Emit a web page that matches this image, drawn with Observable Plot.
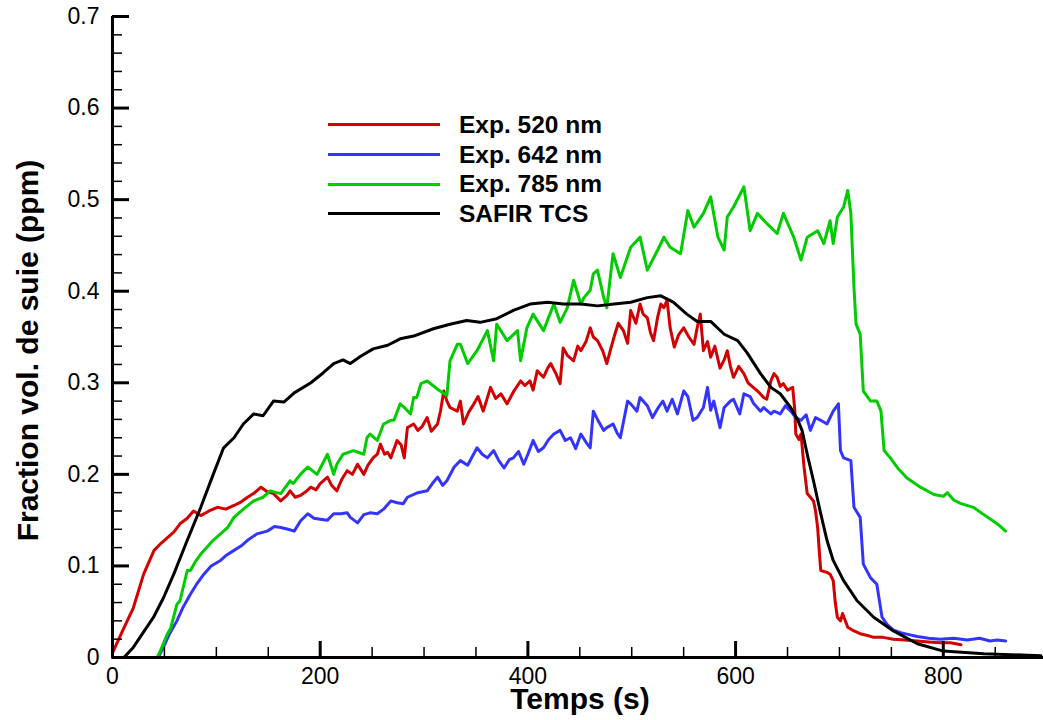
<!DOCTYPE html>
<html>
<head>
<meta charset="utf-8">
<script src="https://cdn.jsdelivr.net/npm/d3@7"></script>
<script src="https://cdn.jsdelivr.net/npm/@observablehq/plot@0.6"></script>
<style>
  body { margin: 0; background: #fff; }
  #wrap { position: relative; width: 1043px; height: 720px; font-family: "Liberation Sans", Arial, Helvetica, sans-serif; }
  #legend { position: absolute; left: 328px; top: 110px; }
  .item { display: flex; align-items: center; height: 29.7px; }
  .swatch { width: 112px; height: 3px; margin-right: 19px; }
  .lab { font-weight: bold; font-size: 24.5px; color: #000; white-space: nowrap; }
</style>
</head>
<body>
<div id="wrap"><div id="legend"></div></div>
<script>
// ---- Data (time in s, soot volume fraction in ppm) ----
const seriesNames = ["Exp. 520 nm", "Exp. 642 nm", "Exp. 785 nm", "SAFIR TCS"];
const seriesColors = ["#d20000", "#3434ff", "#00cc00", "#000000"];

const exp520 = [[0,0.005],[10,0.030],[20,0.054],[30,0.091],[40,0.117],[47,0.125],[53,0.131],[59,0.137],[65,0.146],[72,0.152],[78,0.160],[85,0.155],[93,0.160],[101,0.164],[109,0.162],[117,0.166],[124,0.170],[130,0.175],[137,0.180],[143,0.186],[149,0.181],[155,0.179],[162,0.171],[168,0.177],[171,0.182],[176,0.175],[181,0.177],[186,0.181],[191,0.186],[196,0.183],[200,0.190],[207,0.197],[211,0.188],[216,0.182],[221,0.195],[226,0.204],[231,0.200],[236,0.211],[242,0.200],[246,0.210],[251,0.218],[255,0.222],[258,0.233],[262,0.222],[265,0.224],[268,0.218],[274,0.237],[278,0.232],[281,0.218],[284,0.251],[290,0.255],[294,0.248],[298,0.252],[303,0.262],[307,0.247],[313,0.255],[316,0.270],[319,0.291],[322,0.280],[325,0.273],[332,0.269],[335,0.280],[338,0.255],[343,0.268],[348,0.277],[352,0.285],[357,0.269],[360,0.280],[364,0.295],[369,0.283],[374,0.288],[380,0.277],[386,0.290],[393,0.302],[397,0.297],[402,0.302],[405,0.292],[409,0.313],[415,0.306],[419,0.316],[422,0.321],[427,0.310],[431,0.299],[434,0.338],[438,0.330],[444,0.324],[448,0.340],[451,0.335],[456,0.345],[460,0.360],[463,0.350],[467,0.346],[472,0.335],[476,0.321],[480,0.338],[483,0.350],[487,0.365],[492,0.357],[496,0.343],[499,0.379],[504,0.365],[508,0.386],[511,0.375],[515,0.371],[518,0.355],[521,0.346],[525,0.372],[528,0.386],[531,0.382],[534,0.390],[537,0.360],[541,0.339],[545,0.352],[550,0.360],[555,0.350],[560,0.342],[563,0.360],[566,0.375],[569,0.335],[573,0.345],[576,0.328],[580,0.340],[585,0.316],[589,0.325],[592,0.335],[595,0.318],[598,0.306],[603,0.318],[608,0.310],[612,0.300],[617,0.295],[622,0.290],[627,0.284],[630,0.282],[634,0.302],[637,0.310],[640,0.306],[643,0.296],[646,0.299],[650,0.292],[655,0.295],[657,0.270],[658,0.244],[661,0.238],[663,0.244],[666,0.207],[669,0.179],[675,0.171],[677,0.160],[679,0.142],[681,0.110],[682,0.095],[688,0.093],[691,0.091],[694,0.084],[696,0.060],[698,0.044],[701,0.040],[703,0.048],[705,0.042],[708,0.033],[714,0.029],[720,0.026],[727,0.024],[733,0.022],[742,0.022],[752,0.020],[763,0.019],[775,0.018],[786,0.017],[797,0.016],[807,0.016],[817,0.014]];

const exp642 = [[44,0.000],[49,0.011],[55,0.026],[62,0.040],[68,0.055],[75,0.069],[81,0.080],[88,0.091],[95,0.100],[104,0.106],[110,0.112],[117,0.117],[124,0.122],[130,0.128],[139,0.135],[149,0.138],[156,0.143],[162,0.142],[169,0.140],[175,0.138],[181,0.149],[188,0.157],[194,0.152],[200,0.151],[207,0.150],[213,0.157],[220,0.157],[226,0.158],[229,0.153],[236,0.147],[242,0.156],[248,0.158],[255,0.157],[261,0.162],[268,0.171],[274,0.169],[280,0.168],[284,0.175],[294,0.180],[303,0.182],[308,0.190],[313,0.197],[318,0.188],[322,0.193],[329,0.208],[335,0.215],[342,0.210],[351,0.229],[356,0.222],[361,0.218],[367,0.226],[372,0.215],[377,0.207],[382,0.216],[386,0.218],[391,0.225],[396,0.211],[400,0.222],[405,0.237],[410,0.225],[415,0.229],[420,0.238],[425,0.244],[431,0.248],[436,0.237],[441,0.240],[446,0.228],[451,0.244],[456,0.235],[460,0.229],[463,0.269],[467,0.260],[473,0.248],[476,0.251],[482,0.255],[486,0.245],[489,0.240],[496,0.280],[499,0.277],[505,0.269],[508,0.284],[515,0.275],[520,0.262],[525,0.272],[530,0.280],[534,0.269],[539,0.282],[544,0.266],[550,0.291],[554,0.285],[559,0.259],[563,0.262],[569,0.273],[573,0.295],[576,0.270],[579,0.280],[585,0.251],[589,0.273],[595,0.280],[598,0.282],[604,0.266],[608,0.288],[614,0.285],[617,0.278],[624,0.269],[627,0.273],[634,0.266],[637,0.269],[643,0.266],[648,0.275],[653,0.269],[658,0.262],[663,0.259],[668,0.265],[672,0.248],[677,0.262],[682,0.259],[688,0.255],[694,0.269],[699,0.277],[701,0.226],[704,0.218],[711,0.215],[714,0.164],[720,0.153],[723,0.102],[730,0.087],[736,0.080],[741,0.044],[746,0.036],[752,0.030],[759,0.027],[767,0.025],[775,0.023],[786,0.021],[797,0.020],[810,0.021],[823,0.019],[835,0.021],[845,0.018],[852,0.019],[860,0.018]];

const exp785 = [[43,0.000],[46,0.007],[53,0.026],[56,0.032],[62,0.058],[65,0.062],[72,0.095],[75,0.095],[80,0.105],[85,0.113],[97,0.128],[111,0.142],[117,0.153],[126,0.162],[136,0.171],[145,0.175],[152,0.182],[162,0.179],[171,0.193],[174,0.190],[181,0.200],[188,0.208],[197,0.200],[207,0.222],[213,0.200],[216,0.211],[222,0.222],[232,0.226],[242,0.222],[245,0.240],[248,0.244],[255,0.237],[261,0.255],[268,0.259],[271,0.259],[277,0.277],[281,0.273],[287,0.266],[290,0.284],[293,0.284],[297,0.299],[303,0.302],[313,0.293],[322,0.286],[325,0.324],[332,0.342],[335,0.342],[342,0.321],[351,0.335],[361,0.357],[367,0.324],[370,0.364],[380,0.346],[390,0.357],[393,0.324],[399,0.360],[405,0.375],[415,0.357],[425,0.386],[431,0.366],[438,0.382],[444,0.412],[451,0.386],[454,0.393],[460,0.401],[463,0.419],[467,0.423],[473,0.393],[476,0.382],[482,0.441],[489,0.415],[499,0.448],[508,0.459],[515,0.423],[525,0.445],[531,0.459],[537,0.448],[547,0.441],[554,0.488],[560,0.470],[569,0.485],[576,0.503],[583,0.459],[589,0.445],[592,0.481],[598,0.492],[608,0.514],[614,0.466],[621,0.485],[630,0.474],[640,0.463],[646,0.485],[656,0.459],[663,0.434],[669,0.459],[679,0.466],[685,0.452],[691,0.477],[694,0.452],[698,0.481],[704,0.492],[708,0.510],[711,0.485],[714,0.404],[716,0.364],[720,0.353],[723,0.291],[730,0.280],[736,0.280],[740,0.269],[743,0.226],[749,0.218],[756,0.207],[765,0.196],[778,0.186],[791,0.178],[800,0.176],[804,0.180],[810,0.172],[817,0.168],[829,0.164],[839,0.156],[848,0.149],[853,0.145],[860,0.138]];

const safirTCS = [[0,0.000],[11,0.000],[20,0.011],[30,0.028],[40,0.045],[49,0.065],[59,0.091],[72,0.128],[85,0.164],[97,0.200],[107,0.229],[117,0.240],[126,0.255],[136,0.266],[145,0.264],[155,0.280],[165,0.279],[175,0.289],[191,0.300],[203,0.311],[213,0.321],[222,0.325],[229,0.321],[239,0.329],[251,0.337],[265,0.341],[277,0.348],[290,0.351],[309,0.359],[325,0.364],[341,0.368],[354,0.366],[370,0.370],[386,0.379],[402,0.386],[419,0.388],[434,0.386],[451,0.386],[467,0.384],[483,0.386],[499,0.388],[515,0.393],[528,0.395],[540,0.388],[553,0.375],[563,0.367],[576,0.367],[589,0.353],[602,0.346],[611,0.333],[624,0.310],[634,0.295],[643,0.288],[653,0.273],[660,0.259],[664,0.248],[669,0.222],[675,0.193],[682,0.157],[688,0.128],[694,0.106],[704,0.084],[717,0.062],[733,0.044],[752,0.029],[775,0.015],[800,0.007],[839,0.004],[894,0.002]];

// ---- Axis ticks ----
const xTicks = [0, 200, 400, 600, 800];
const xMinorTicks = [50, 100, 150, 250, 300, 350, 450, 500, 550, 650, 700, 750, 850];
const yTicks = [0, 0.1, 0.2, 0.3, 0.4, 0.5, 0.6, 0.7];
const yMinorTicks = [0.02,0.04,0.06,0.08,0.12,0.14,0.16,0.18,0.22,0.24,0.26,0.28,0.32,0.34,0.36,0.38,0.42,0.44,0.46,0.48,0.52,0.54,0.56,0.58,0.62,0.64,0.66,0.68];
const xTitle = "Temps (s)";
const yTitle = "Fraction vol. de suie (ppm)";

const seriesData = [exp520, exp642, exp785, safirTCS];
const toRows = (arr) => arr.map(([t, v]) => ({t, v}));
const FONT = '"Liberation Sans", Arial, Helvetica, sans-serif';

const lineMarks = seriesData.map((arr, i) =>
  Plot.line(toRows(arr), {x: "t", y: "v", stroke: seriesColors[i], strokeWidth: 3, strokeLinejoin: "round"})
);

const chart = Plot.plot({
  width: 1043,
  height: 720,
  marginLeft: 112,
  marginRight: 0,
  marginTop: 16,
  marginBottom: 63,
  x: {domain: [0, 896.5], label: null},
  y: {domain: [0, 0.7], label: null},
  style: {fontFamily: FONT, background: "white", color: "black"},
  marks: [
    ...lineMarks,
    Plot.ruleX([0], {strokeWidth: 3}),
    Plot.ruleY([0], {strokeWidth: 3}),
    Plot.axisY(yMinorTicks, {tickSize: 10, dx: 10, strokeWidth: 1.5, tickFormat: () => "", label: null}),
    Plot.axisY(yTicks, {tickSize: 17, dx: 17, strokeWidth: 3, tickFormat: () => "", label: null}),
    Plot.axisY(yTicks, {tickSize: 0, tickPadding: 13, fontSize: 23, tickFormat: d => d === 0 ? "0" : d3.format(".1f")(d), label: null}),
    Plot.axisX(xMinorTicks, {tickSize: 10, dy: -10, strokeWidth: 1.5, tickFormat: () => "", label: null}),
    Plot.axisX(xTicks, {tickSize: 16, dy: -16, strokeWidth: 3, tickFormat: () => "", label: null}),
    Plot.axisX(xTicks, {tickSize: 0, tickPadding: 10, fontSize: 23, tickFormat: d => String(d), label: null}),
    Plot.text([xTitle], {frameAnchor: "bottom", textAnchor: "middle", lineAnchor: "middle", dx: 2, dy: 42, fontSize: 30, fontWeight: "bold", fill: "black"}),
    Plot.text([yTitle], {frameAnchor: "left", textAnchor: "middle", lineAnchor: "middle", rotate: -90, dx: -84, dy: 13.5, fontSize: 30, fontWeight: "bold", fill: "black"})
  ]
});

const wrap = document.getElementById("wrap");
wrap.insertBefore(chart, wrap.firstChild);

const legend = document.getElementById("legend");
seriesNames.forEach((name, i) => {
  const item = document.createElement("div");
  item.className = "item";
  const sw = document.createElement("div");
  sw.className = "swatch";
  sw.style.background = seriesColors[i];
  const lab = document.createElement("span");
  lab.className = "lab";
  lab.textContent = name;
  item.appendChild(sw);
  item.appendChild(lab);
  legend.appendChild(item);
});
</script>
</body>
</html>
